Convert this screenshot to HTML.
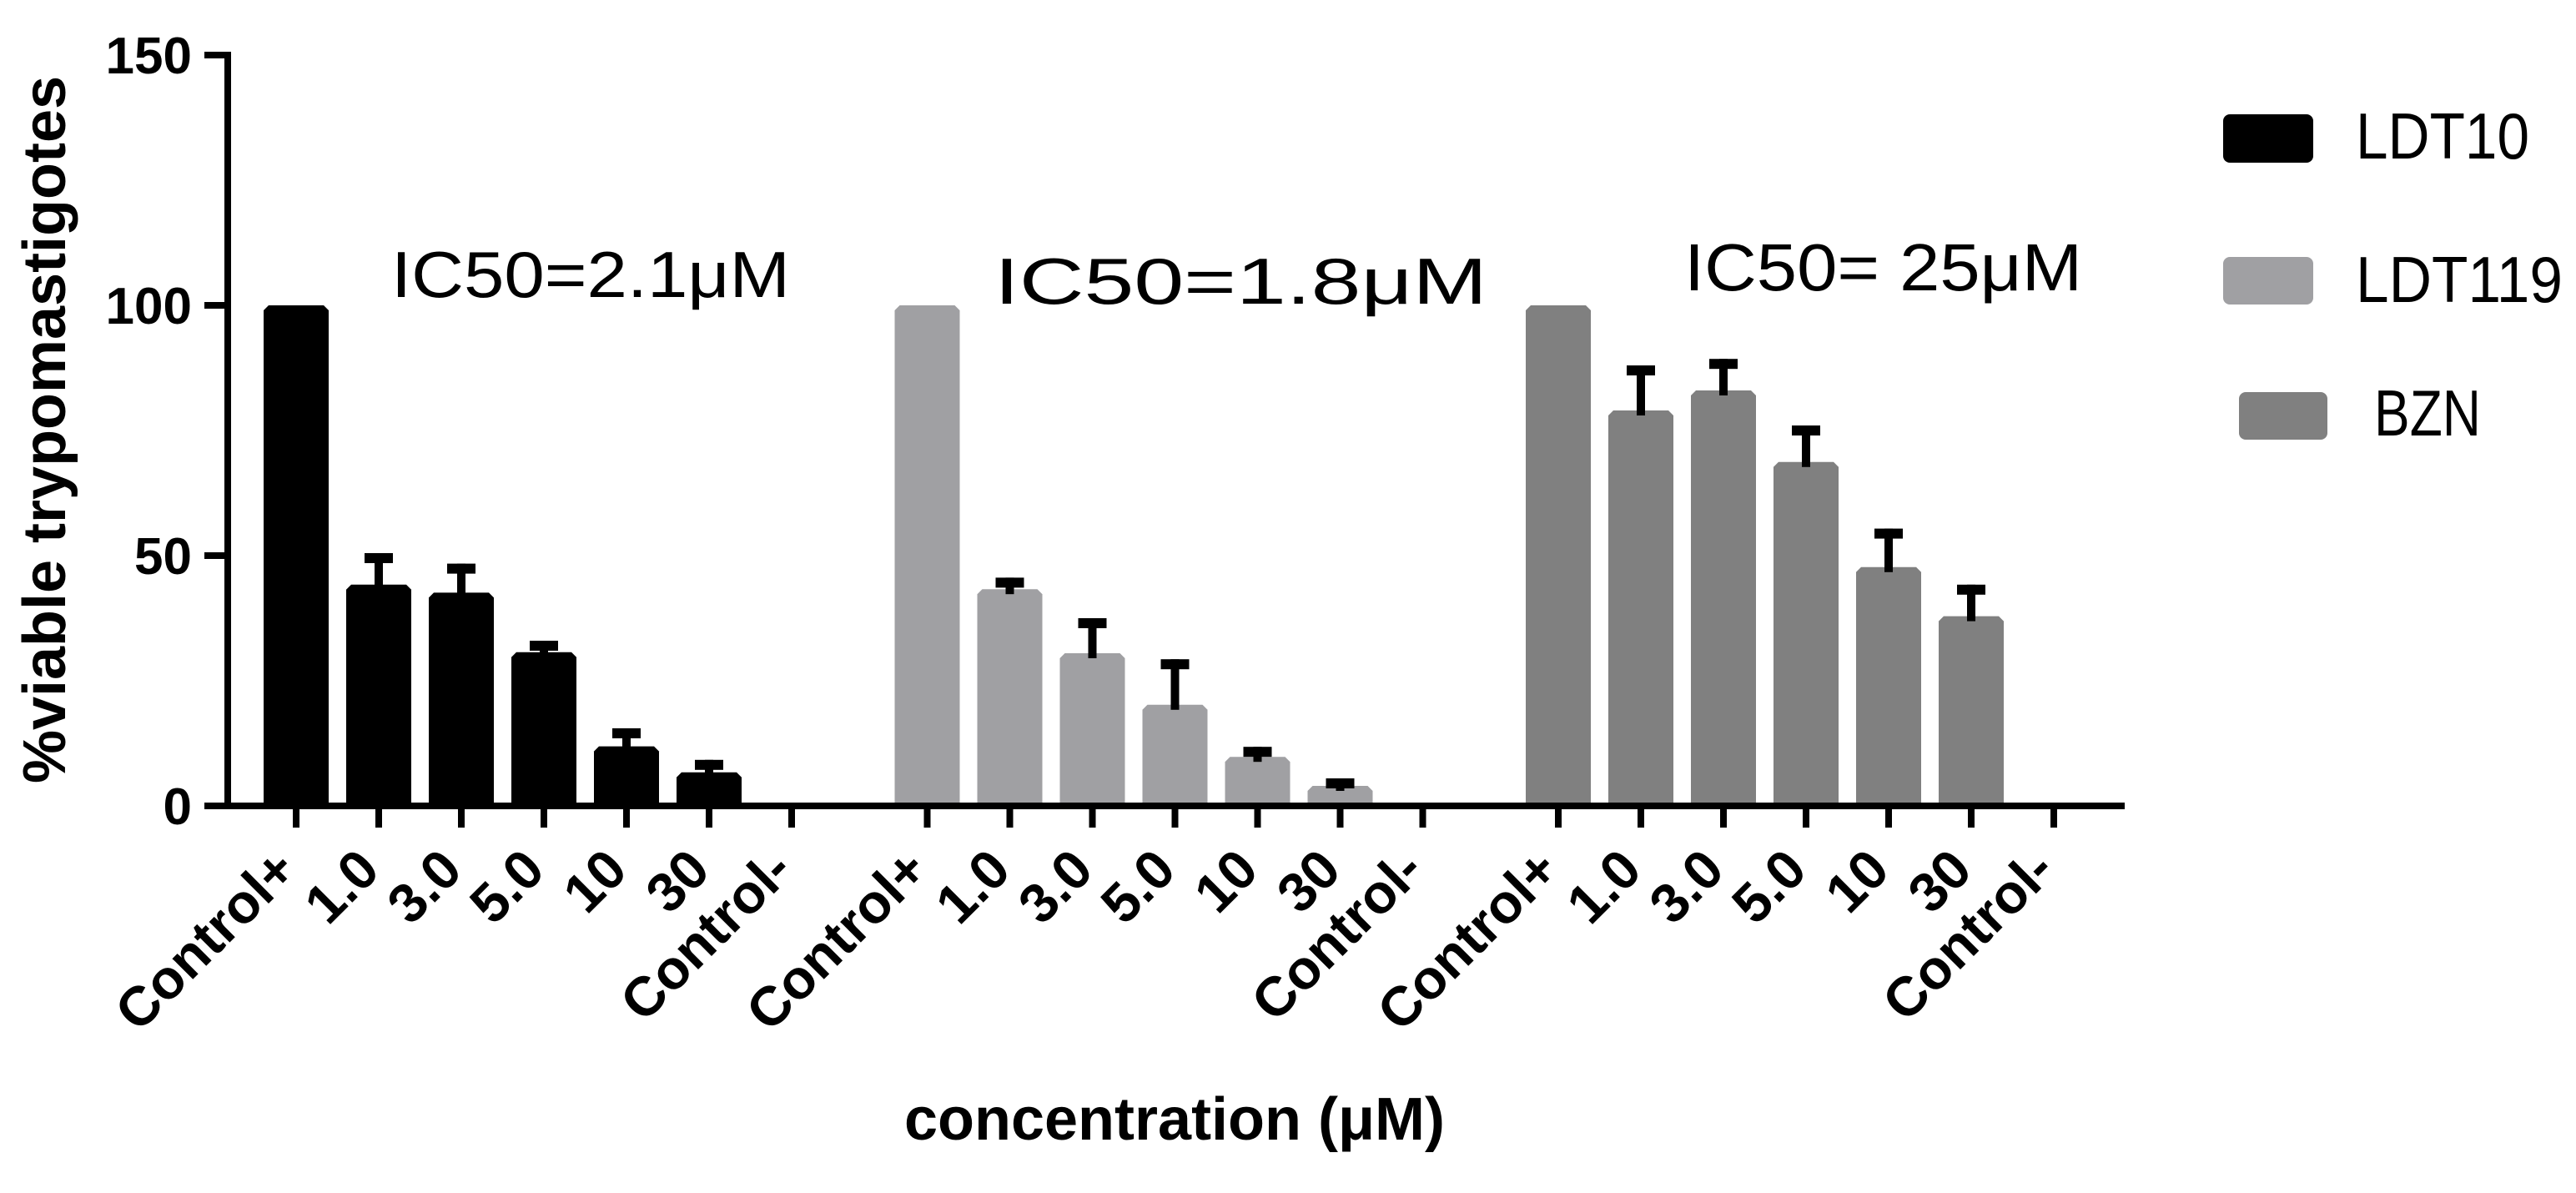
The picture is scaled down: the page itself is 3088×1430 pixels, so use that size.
<!DOCTYPE html>
<html><head><meta charset="utf-8"><style>
html,body{margin:0;padding:0;background:#fff;}
svg{display:block;font-family:"Liberation Sans",Arial,sans-serif;}
</style></head><body>
<svg id="chart" width="3088" height="1430" viewBox="0 0 3088 1430">
<g id="marks"></g>
<g id="axes"></g>
<text x="1408" y="1366" font-size="72" font-weight="bold" text-anchor="middle">concentration (μM)</text>
<text transform="translate(78,515) rotate(-90)" font-size="72" font-weight="bold" text-anchor="middle" textLength="848" lengthAdjust="spacingAndGlyphs">%viable trypomastigotes</text>
<text x="469" y="356" font-size="78" textLength="478" lengthAdjust="spacingAndGlyphs">IC50=2.1μM</text>
<text x="1192" y="364" font-size="78" textLength="591" lengthAdjust="spacingAndGlyphs">IC50=1.8μM</text>
<text x="2019" y="348" font-size="80" textLength="477" lengthAdjust="spacingAndGlyphs">IC50= 25μM</text>
<g>
<rect x="2665" y="137" width="108" height="58" rx="8" fill="#000"/>
<text x="2824" y="190" font-size="78" textLength="208" lengthAdjust="spacingAndGlyphs">LDT10</text>
<rect x="2665" y="308" width="108" height="57" rx="8" fill="#a0a0a3"/>
<text x="2824" y="362" font-size="78" textLength="248" lengthAdjust="spacingAndGlyphs">LDT119</text>
<rect x="2684" y="470" width="106" height="57" rx="8" fill="#808080"/>
<text x="2846" y="522" font-size="78" textLength="128" lengthAdjust="spacingAndGlyphs">BZN</text>
</g>
</svg>
<script>
const categories = ["Control+","1.0","3.0","5.0","10","30","Control-"];
const seriesNames = ["LDT10","LDT119","BZN"];
const ldt10 = [100,44.2,42.6,30.7,11.9,6.7,0];
const ldt10Err = [0,6.3,5.8,2.3,3.6,2.5,0];
const ldt119 = [100,43.3,30.5,20.2,9.8,4,0];
const ldt119Err = [0,2.3,7,9.1,2,1.5,0];
const bzn = [100,79,83,68.7,47.7,37.9,0];
const bznErr = [0,9,6.3,7.3,7.7,6.3,0];
const yTicks = [0,50,100,150];

const NS="http://www.w3.org/2000/svg";
const colors=["#000000","#a0a0a3","#808080"];
const values=[ldt10,ldt119,bzn], errs=[ldt10Err,ldt119Err,bznErr];
function y(v){return 966-6*v;}
function x(g,i){return 355+g*756.5+i*99;}
function mk(tag,attrs,parent){const e=document.createElementNS(NS,tag);for(const k in attrs)e.setAttribute(k,attrs[k]);parent.appendChild(e);return e;}
const marks=document.getElementById('marks'), axes=document.getElementById('axes');
const bw=78;
values.forEach((vals,g)=>{
  vals.forEach((v,i)=>{
    if(v<=0) return;
    const cx=x(g,i), top=y(v);
    const p=mk('path',{d:`M${cx-bw/2},${y(0)} V${top+6} L${cx-bw/2+6},${top} H${cx+bw/2-6} L${cx+bw/2},${top+6} V${y(0)} Z`,fill:colors[g]},marks);
    
    
    const e=errs[g][i];
    if(e>0){
      const et=y(v+e);
      const s=mk('rect',{x:cx-5,y:et,width:10,height:top-et+6,fill:'#000'},marks);
      
      
      const c=mk('rect',{x:cx-17,y:et,width:34,height:12,fill:'#000'},marks);
      
      
    }
  });
});
const ya=mk('line',{x1:273,y1:y(150)-4,x2:273,y2:y(0)+4,stroke:'#000','stroke-width':8},axes);


const xa=mk('line',{x1:269,y1:y(0),x2:2547,y2:y(0),stroke:'#000','stroke-width':8},axes);


yTicks.forEach(t=>{
  const l=mk('line',{x1:245,y1:y(t),x2:273,y2:y(t),stroke:'#000','stroke-width':8},axes);
  
  
  const tx=mk('text',{x:230,y:y(t)+22,'font-size':62,'font-weight':'bold','text-anchor':'end'},axes);
  tx.textContent=t;
  
  
});
for(let g=0;g<3;g++){
  categories.forEach((c,i)=>{
    const cx=x(g,i);
    const l=mk('line',{x1:cx,y1:y(0),x2:cx,y2:y(0)+26,stroke:'#000','stroke-width':8},axes);
    
    
    const tx=mk('text',{transform:`translate(${cx+4},${y(0)+80}) rotate(-45)`,'font-size':66,'font-weight':'bold','text-anchor':'end'},axes);
    tx.textContent=c;
    
    
  });
}
</script>
</body></html>
